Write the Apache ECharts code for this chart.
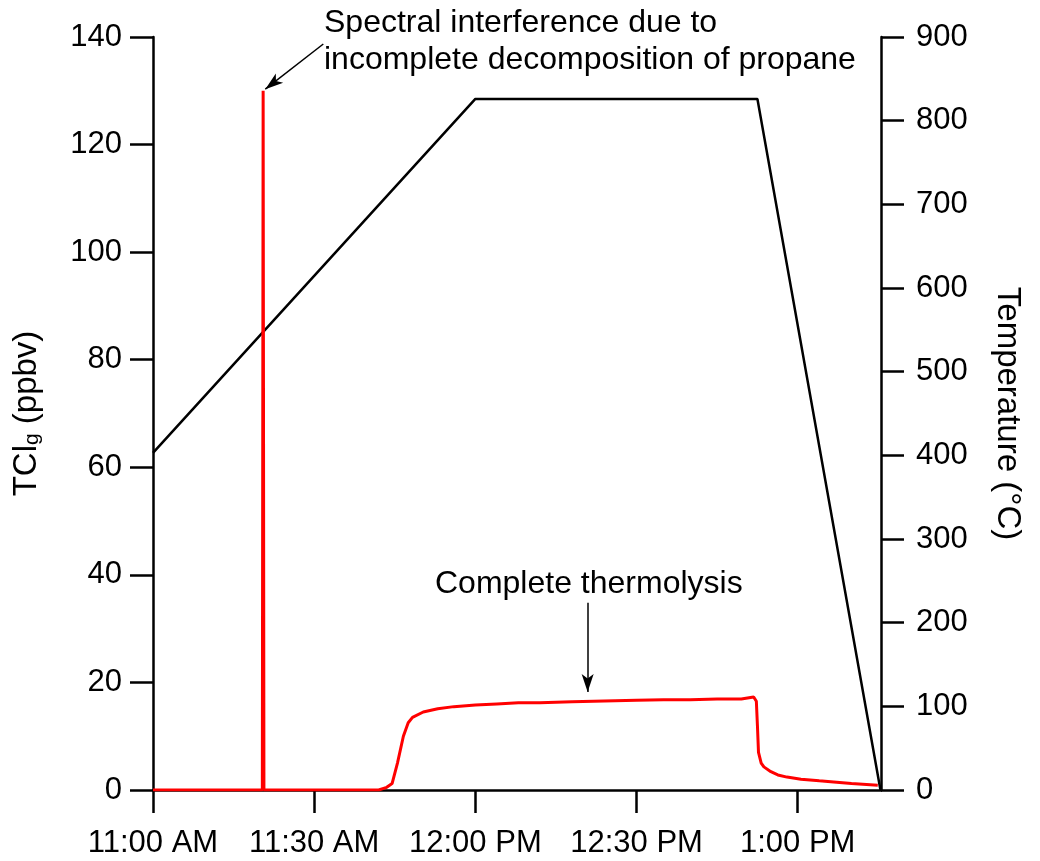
<!DOCTYPE html>
<html>
<head>
<meta charset="utf-8">
<script src="https://cdn.jsdelivr.net/npm/echarts@6/dist/echarts.min.js"></script>
<style>
    html, body { margin: 0; padding: 0; background: #fff; }
    #main { width: 1040px; height: 861px; }
</style>
</head>
<body>
<div id="main"></div>
<script>
// time is kept as minutes after 11:00 AM
var tickMinutes = [0, 30, 60, 90, 120];
var tickLabels = ['11:00 AM', '11:30 AM', '12:00 PM', '12:30 PM', '1:00 PM'];

// TClg (ppbv), red trace
var tclMinutes = [0, 20.35, 20.5, 20.65, 42, 43.5, 44.5, 45.5, 46.6, 47.5, 48.3, 50.3, 53, 56, 60, 64, 68, 72, 78, 82,
    86, 90, 95, 100, 105, 109.5, 111.8, 112.3, 112.5, 112.7, 113.2, 113.7, 115, 116.3, 118, 120.6, 124, 126.7, 130, 134.9];
var tclPpbv = [0, 0, 130, 0, 0, 0.5, 1.2, 5, 10, 12.5, 13.5, 14.5, 15.1, 15.5, 15.8, 16.0, 16.2, 16.2, 16.4, 16.5,
    16.6, 16.7, 16.8, 16.8, 16.9, 16.9, 17.3, 16.5, 12, 7, 5, 4.3, 3.4, 2.8, 2.4, 2.0, 1.7, 1.5, 1.2, 0.9];

// furnace temperature (°C), black trace
var tempMinutes = [0, 60, 112.5, 135.4];
var tempC = [403, 826, 826, 0];

var FONT = '"Liberation Sans", Arial, sans-serif';

function pairs(xs, ys) {
    return xs.map(function (x, i) { return [x, ys[i]]; });
}

var chart = echarts.init(document.getElementById('main'));

var axisLine = { show: true, lineStyle: { color: '#000', width: 2.5 } };
var axisTick = { show: true, length: 23, lineStyle: { color: '#000', width: 2.5 } };

var option = {
    animation: false,
    backgroundColor: '#fff',
    grid: { left: 153, right: 159, top: 37, bottom: 71, containLabel: false, outerBoundsMode: 'none' },
    xAxis: {
        type: 'value',
        min: 0,
        max: 135.5,
        interval: 30,
        axisLine: axisLine,
        axisTick: { show: true, length: 23, lineStyle: { color: '#000', width: 2.5 }, customValues: tickMinutes },
        splitLine: { show: false },
        axisLabel: {
            customValues: tickMinutes,
            margin: 38,
            color: '#000',
            fontSize: 31,
            fontFamily: FONT,
            formatter: function (v) {
                var i = tickMinutes.indexOf(v);
                return i >= 0 ? tickLabels[i] : '';
            }
        }
    },
    yAxis: [{
        type: 'value',
        min: 0,
        max: 140,
        interval: 20,
        position: 'left',
        axisLine: axisLine,
        axisTick: axisTick,
        splitLine: { show: false },
        axisLabel: { margin: 31, color: '#000', fontSize: 31, fontFamily: FONT },
        name: '{a|TCl}{s|g}{a| (ppbv)}',
        nameLocation: 'middle',
        nameGap: 110,
        nameTextStyle: {
            rich: {
                a: { fontSize: 33, fontFamily: FONT, color: '#000', lineHeight: 33, verticalAlign: 'top' },
                s: { fontSize: 21, fontFamily: FONT, color: '#000', lineHeight: 21, padding: [21, 0, 0, 0], verticalAlign: 'bottom' }
            }
        }
    }, {
        type: 'value',
        min: 0,
        max: 900,
        interval: 100,
        position: 'right',
        axisLine: axisLine,
        axisTick: axisTick,
        splitLine: { show: false },
        axisLabel: { margin: 35, color: '#000', fontSize: 31, fontFamily: FONT },
        name: 'Temperature (°C)',
        nameLocation: 'middle',
        nameRotate: -90,
        nameGap: 110,
        nameTextStyle: { fontSize: 33, fontFamily: FONT, color: '#000' }
    }],
    series: [{
        name: 'Temperature',
        type: 'line',
        yAxisIndex: 1,
        data: pairs(tempMinutes, tempC),
        showSymbol: false,
        lineStyle: { color: '#000', width: 2.5 },
        itemStyle: { color: '#000' },
        silent: true
    }, {
        name: 'TClg',
        type: 'line',
        yAxisIndex: 0,
        data: pairs(tclMinutes, tclPpbv),
        showSymbol: false,
        lineStyle: { color: '#ff0000', width: 3 },
        itemStyle: { color: '#ff0000' },
        silent: true,
        markLine: {
            silent: true,
            animation: false,
            symbol: ['none', 'arrow'],
            symbolSize: [0, 14],
            label: { show: false },
            lineStyle: { color: '#000', width: 1.5, type: 'solid' },
            data: [
                [{ coord: [31.7, 138.7] }, { coord: [20.9, 130.3], symbolSize: [9, 18] }],
                [{ coord: [80.9, 34.8] }, { coord: [80.9, 18.2], symbolSize: [9, 18] }]
            ]
        }
    }],
    graphic: [{
        type: 'text',
        left: 324,
        top: 5,
        style: {
            text: 'Spectral interference due to\nincomplete decomposition of propane',
            font: '32px ' + FONT,
            fill: '#000',
            lineHeight: 37
        }
    }, {
        type: 'text',
        left: 435,
        top: 568,
        style: {
            text: 'Complete thermolysis',
            font: '32px ' + FONT,
            fill: '#000'
        }
    }]
};

chart.setOption(option);
</script>
</body>
</html>
